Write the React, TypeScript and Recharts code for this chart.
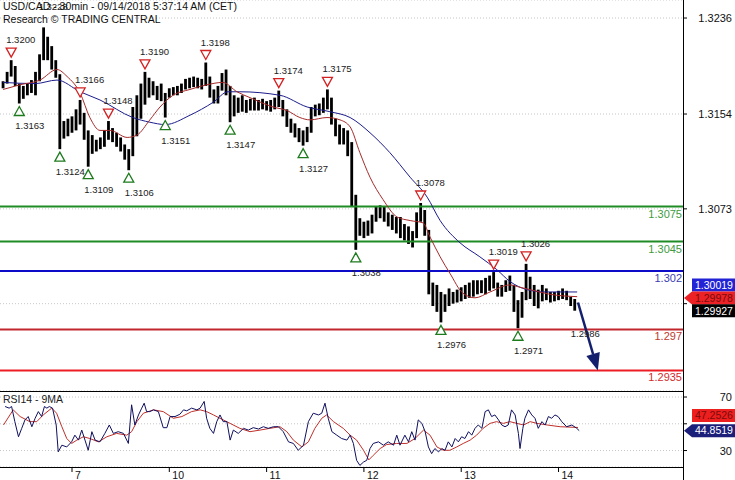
import React from 'react';
import { ComposedChart, Bar, Line, Scatter, XAxis, YAxis, CartesianGrid, ReferenceLine } from 'recharts';

const FONT = "'Liberation Sans', Arial, sans-serif";

// hourly bars, hour 0 = Sep 7 00:00 CET
const firstBarHour = -17;
const barHigh = [
  1.3182, 1.3190, 1.3200, 1.3195, 1.3180, 1.3178, 1.3180, 1.3183, 1.3190, 1.3205,
  1.3228, 1.3220, 1.3212, 1.3200, 1.3188, 1.3148, 1.3150, 1.3152, 1.3158, 1.3166,
  1.3155, 1.3140, 1.3136, 1.3132, 1.3134, 1.3140, 1.3148, 1.3142, 1.3138, 1.3134,
  1.3128, 1.3124, 1.3160, 1.3170, 1.3180, 1.3190, 1.3185, 1.3182, 1.3178, 1.3180,
  1.3172, 1.3176, 1.3177, 1.3178, 1.3180, 1.3184, 1.3185, 1.3186, 1.3185, 1.3184,
  1.3198, 1.3186, 1.3175, 1.3178, 1.3189, 1.3192, 1.3178, 1.3170, 1.3168, 1.3170,
  1.3166, 1.3167, 1.3168, 1.3166, 1.3167, 1.3165, 1.3166, 1.3168, 1.3174, 1.3166,
  1.3158, 1.3150, 1.3146, 1.3142, 1.3140, 1.3143, 1.3160, 1.3162, 1.3163, 1.3168,
  1.3175, 1.3168, 1.3150, 1.3145, 1.3142, 1.3140, 1.3130, 1.3085, 1.3065, 1.3062,
  1.3063, 1.3068, 1.3075, 1.3076, 1.3075, 1.3070, 1.3068, 1.3066, 1.3066, 1.3060,
  1.3058, 1.3054, 1.3070, 1.3078, 1.3072, 1.3055, 1.3010, 1.3008, 1.3002, 1.3000,
  1.3005, 1.3002, 1.3004, 1.3006, 1.3008, 1.3010, 1.3012, 1.3012, 1.3012, 1.3014,
  1.3016, 1.3019, 1.3010, 1.3008, 1.3012, 1.3016, 1.3008, 1.2995, 1.3002, 1.3026,
  1.3015, 1.3008, 1.3004, 1.3008, 1.3005, 1.3002, 1.3002, 1.3003, 1.3005, 1.3003,
  1.2998, 1.2996,
];
const barLow = [
  1.3176, 1.3180, 1.3186, 1.3178, 1.3163, 1.3167, 1.3170, 1.3172, 1.3170, 1.3182,
  1.3200, 1.3200, 1.3192, 1.3185, 1.3124, 1.3133, 1.3135, 1.3138, 1.3140, 1.3145,
  1.3132, 1.3109, 1.3120, 1.3122, 1.3124, 1.3126, 1.3132, 1.3130, 1.3126, 1.3122,
  1.3115, 1.3106, 1.3118, 1.3135, 1.3150, 1.3162, 1.3168, 1.3170, 1.3166, 1.3165,
  1.3151, 1.3168, 1.3170, 1.3170, 1.3172, 1.3175, 1.3176, 1.3177, 1.3176, 1.3175,
  1.3178, 1.3168, 1.3163, 1.3163, 1.3174, 1.3170, 1.3147, 1.3152, 1.3155, 1.3156,
  1.3155, 1.3157, 1.3157, 1.3157, 1.3158, 1.3157, 1.3156, 1.3158, 1.3160, 1.3152,
  1.3143, 1.3138, 1.3134, 1.3130, 1.3127, 1.3130, 1.3138, 1.3152, 1.3153, 1.3155,
  1.3158, 1.3145, 1.3135, 1.3128, 1.3128, 1.3118, 1.3075, 1.3038, 1.3050, 1.3048,
  1.3050, 1.3052, 1.3062, 1.3065, 1.3062, 1.3058, 1.3055, 1.3052, 1.3048, 1.3046,
  1.3043, 1.3040, 1.3048, 1.3062, 1.3050, 1.3000, 1.2990, 1.2985, 1.2976, 1.2985,
  1.2990, 1.2992, 1.2993, 1.2994, 1.2996, 1.2997, 1.2998, 1.3000, 1.3001, 1.3000,
  1.3003, 1.3005, 1.2998, 1.2998, 1.3002, 1.3003, 1.2985, 1.2971, 1.2980, 1.2995,
  1.2996, 1.2990, 1.2988, 1.2994, 1.2995, 1.2993, 1.2994, 1.2995, 1.2996, 1.2995,
  1.2990, 1.2986,
];

// [hour, price]
const slowMa = [
  [-17, 1.3181], [-9.1, 1.318], [-3.7, 1.3183], [2, 1.3173], [6.9, 1.3166], [15, 1.3151],
  [19.2, 1.3147], [23, 1.3145], [29.1, 1.3153], [34.8, 1.3164], [38.5, 1.3173], [41.4, 1.3173],
  [51.3, 1.317], [58, 1.316], [63.6, 1.3156], [68.6, 1.3151], [73.5, 1.3138], [78.4, 1.3121],
  [83.4, 1.31], [87.6, 1.3083], [90.8, 1.3063], [95.7, 1.3044], [100.6, 1.3032], [104.8, 1.3021],
  [108, 1.3011], [112.2, 1.3004], [116.7, 1.3002], [124.6, 1.3002],
];
const fastMa = [
  [-17, 1.3175], [-12.8, 1.3179], [-7.9, 1.3183], [-3.7, 1.3192], [-1.2, 1.3186], [2, 1.3172],
  [4.4, 1.3151], [6.9, 1.314], [9.4, 1.314], [13.6, 1.3134], [16, 1.3136], [19.2, 1.3149],
  [21.7, 1.316], [24.9, 1.317], [29.1, 1.3175], [33.3, 1.3179], [37.2, 1.3181], [40.7, 1.3173],
  [43.9, 1.3168], [49.6, 1.316], [53, 1.3157], [56.2, 1.3151], [58.7, 1.3149], [62.9, 1.3151],
  [66.1, 1.3149], [68.6, 1.3143], [71, 1.3121], [73.5, 1.31], [76.7, 1.3081], [80.2, 1.3066],
  [83.4, 1.3063], [86.6, 1.3061], [88.3, 1.3049], [90.8, 1.3032], [93.2, 1.3018], [96.4, 1.3001],
  [99.4, 1.2997], [103.1, 1.3002], [108, 1.3008], [110.5, 1.3006], [113, 1.3004], [117.9, 1.3],
  [124.6, 1.2998],
];

// [hour, value]
const rsi14 = [
  [-16.5, 62.9], [-15.5, 61.7], [-14.9, 62.9], [-14.1, 51.6], [-13.2, 40.3], [-12.4, 46.6], [-11.6, 52.9],
  [-10.8, 55.4], [-9.9, 47.8], [-9.1, 54.1], [-8.3, 59.1], [-7.5, 55.4], [-6.8, 62.9], [-6.2, 61.7],
  [-5.6, 62.9], [-4.8, 61.7], [-3.9, 49.1], [-3.4, 29], [-2.5, 34], [-1.3, 32.7], [-0.1, 36.5],
  [0.7, 41.5], [1.6, 37.8], [2.4, 45.3], [3.2, 37.8], [4, 30.2], [4.9, 44.1], [5.7, 37.8], [6.9, 36.5],
  [8.1, 42.8], [9.2, 49.1], [10.2, 42.8], [11.4, 44.1], [12.7, 42.8], [13.9, 35.3], [14.7, 64.2],
  [15.5, 49.1], [16.4, 56.6], [17.2, 61.7], [17.8, 65.4], [18.4, 59.1], [19.2, 59.1], [20.1, 60.4],
  [21.3, 59.1], [22.5, 47.1], [23.4, 47.1], [24.2, 55.4], [25.4, 55.4], [26.6, 57.1], [27.5, 60.4],
  [28.3, 59.7], [29.5, 61.7], [30.8, 60.4], [31.6, 61.7], [32.6, 66.7], [33.2, 54.1], [34, 46.6],
  [34.9, 42.8], [35.7, 51.6], [36.5, 56.6], [37.3, 51.6], [38.2, 51.6], [39, 37.8], [39.8, 45.3],
  [41, 42.8], [42.3, 46.6], [43.5, 45.3], [44.7, 47.1], [46, 46.1], [47.2, 47.8], [48.4, 46.6],
  [49.7, 47.8], [50.9, 47.8], [52.1, 44.1], [53.4, 36.5], [54.6, 35.3], [55.8, 30.2], [57.1, 34],
  [58.3, 51.6], [59.5, 57.9], [60.8, 56.6], [61.6, 57.9], [62.4, 65.4], [63.2, 54.1], [64.1, 44.1],
  [65.3, 41.5], [66.5, 39], [67.8, 37.8], [68.6, 41.5], [69.4, 35.3], [70.2, 22.7], [71, 18.9],
  [71.9, 21.4], [72.7, 22.7], [73.5, 31.5], [74.3, 35.3], [75.6, 36.5], [76.8, 34], [78, 36.5],
  [79.3, 34], [80.1, 41.5], [80.9, 34], [82.1, 41.5], [83, 36.5], [83.8, 44.1], [84.6, 37.8],
  [85.4, 52.9], [86.3, 50.3], [87.1, 44.1], [87.9, 32.7], [88.7, 27.7], [89.5, 31.5], [90.4, 29],
  [91.2, 31.5], [92, 30.2], [92.8, 36.5], [93.7, 32.7], [94.5, 39], [95.3, 36.5], [96.1, 40.3],
  [96.9, 39], [97.8, 44.1], [98.6, 41.5], [99.4, 46.6], [100.2, 49.1], [101.1, 46.6], [101.9, 59.1],
  [102.7, 60.4], [103.5, 55.4], [104.3, 56.6], [105.2, 52.9], [106, 49.1], [106.8, 47.8], [107.6, 49.1],
  [108.4, 60.4], [109.3, 56.6], [110.1, 42.8], [110.5, 31.5], [111.2, 46.6], [111.7, 54.1], [112.6, 60.4],
  [113.4, 56.6], [114.2, 54.1], [115, 46.6], [115.9, 51.6], [116.7, 49.1], [117.5, 55.4], [118.3, 54.1],
  [119.1, 56.6], [119.9, 55.4], [120.8, 51.6], [122, 47.8], [123.3, 49.1], [124.5, 46.6], [125.1, 44.85],
];
const rsiMa9 = [
  [-16.9, 49.1], [-14.5, 60.4], [-12.8, 55.4], [-10.4, 51.6], [-8.7, 51.6], [-7.1, 56.6], [-5, 61.7],
  [-3.8, 57.9], [-2.5, 47.8], [-1.3, 39], [-0.1, 35.3], [1.2, 37.8], [2.8, 40.3], [4.4, 39], [6.5, 36.5],
  [8.6, 40.3], [11, 42.8], [13.5, 41.5], [14.7, 44.1], [16, 51.6], [17.6, 57.9], [20.1, 60.4],
  [22.5, 59.1], [25, 54.1], [27.1, 55.4], [29.5, 59.1], [31.6, 60.4], [33.2, 59.1], [34.9, 56.6],
  [36.5, 54.1], [39, 50.3], [41.4, 46.6], [43.9, 44.1], [46.4, 45.3], [48.8, 46.6], [51.3, 47.8],
  [53, 44.1], [54.6, 37.8], [56.7, 32.7], [58.3, 36.5], [59.9, 46.6], [61.6, 54.1], [62.8, 56.6],
  [64.5, 51.6], [66.9, 46.6], [68.6, 41.5], [70.2, 37.8], [71.9, 30.2], [73.2, 23], [74.3, 26.4],
  [76, 31.5], [77.6, 34.5], [80.1, 35.3], [82.6, 35.3], [84.6, 39], [86.7, 45.3], [88.3, 41.5],
  [90, 32.7], [91.6, 30.2], [93.2, 30.2], [94.9, 32.7], [96.5, 35.3], [98.2, 37.8], [99.8, 41.5],
  [101.4, 46.6], [103.1, 50.3], [104.7, 51.6], [106.4, 50.3], [108, 51.6], [109.7, 50.3], [111.4, 49.1],
  [113, 51.6], [114.7, 50.3], [117.2, 49.1], [120.4, 47.8], [124.8, 47.25],
];

// [hour, price, marker shown]
const swingHighs = [
  [-15, 1.32, true], [-7, 1.3228, false], [2, 1.3166, true], [9, 1.3148, true], [18, 1.319, true],
  [33, 1.3198, true], [51, 1.3174, true], [63, 1.3175, true], [86, 1.3078, true], [104, 1.3019, true],
  [112, 1.3026, true],
];
const swingLows = [
  [-13, 1.3163, true], [-3, 1.3124, true], [4, 1.3109, true], [14, 1.3106, true], [23, 1.3151, true],
  [39, 1.3147, true], [57, 1.3127, true], [70, 1.3038, true], [91, 1.2976, true], [110, 1.2971, true],
  [124, 1.2986, false],
];

const dayTicks = [0, 24, 48, 72, 96, 120];
const dayLabels = ['7', '10', '11', '12', '13', '14'];
const priceTicks = [1.2992, 1.3073, 1.3154, 1.3236];
const hiddenPriceTick = 1.2992;
const rsiTicks = [30, 50, 70];
const hiddenRsiTick = 50;
const levelPrices = [1.3075, 1.3045, 1.302, 1.297, 1.2935];
const levelLabels = ['1.3075', '1.3045', '1.302', '1.297', '1.2935'];
const priceTagValues = [1.30019, 1.29978, 1.29927];
const rsiTagValues = [47.2526, 44.8519];
const targetArrow = [[124.8, 1.2993], [129.7, 1.2935]];

const xDomain = [-17.76, 150.7];
const priceDomain = [1.29174, 1.32514];
const rsiDomain = [17.7, 74.5];

const levelColors = ['#1f8b24', '#1f8b24', '#0b0bc8', '#c1262c', '#ec1d24'];
const levelTextColors = ['#3f9b3f', '#3f9b3f', '#3c3cb4', '#c0392b', '#d42a2a'];
const priceTagStyles = [
  { bg: '#2323d6', fg: '#fff', shift: -7, arrow: false },
  { bg: '#ec2226', fg: '#7a0c0c', shift: 1, arrow: true },
  { bg: '#000', fg: '#fff', shift: 8, arrow: false },
];
const rsiTagStyles = [
  { bg: '#ee1f1f', fg: '#7a0c0c', shift: -12, arrow: false },
  { bg: '#1b1f7a', fg: '#fff', shift: 0, arrow: true },
];

const bars = barHigh.map((hi, i) => ({ h: firstBarHour + i, range: [barLow[i], hi] }));
const toPts = (arr: number[][]) => arr.map(([h, p]) => ({ h, p }));
const highPts = swingHighs.map(([h, p, mark]) => ({ h, p, mark }));
const lowPts = swingLows.map(([h, p, mark]) => ({ h, p, mark }));

function PriceTick(props: any) {
  const { x, y, payload } = props;
  const v = payload.value;
  if (v === hiddenPriceTick) return null;
  return (
    <text x={x + 43} y={y} dy="0.36em" textAnchor="end" fontSize={11} fontFamily={FONT} fill="#111">
      {v.toFixed(4)}
    </text>
  );
}

function RsiTick(props: any) {
  const { x, y, payload } = props;
  if (payload.value === hiddenRsiTick) return null;
  return (
    <text x={x + 43} y={y} dy="0.36em" textAnchor="end" fontSize={11} fontFamily={FONT} fill="#111">
      {payload.value}
    </text>
  );
}

function DayTick(props: any) {
  const { x, y, payload } = props;
  const label = dayLabels[dayTicks.indexOf(payload.value)];
  return (
    <g>
      <line x1={x} y1={y} x2={x} y2={y + 5} stroke="#000" />
      <text x={x + 3} y={y + 12} fontSize={10.5} fontFamily={FONT} fill="#111">{label}</text>
    </g>
  );
}

// high-low stick
function Stick(props: any) {
  const { x, y, width, height } = props;
  if (![x, y, width, height].every((v) => typeof v === 'number' && !isNaN(v))) return <g />;
  const cx = x + width / 2;
  return <rect x={cx - 1.4} y={y} width={2.8} height={Math.max(height, 1)} fill="#000" />;
}

function HighMark(props: any) {
  const { cx, cy, payload } = props;
  return (
    <g>
      {payload.mark && (
        <polygon points={`${cx - 5},${cy - 12} ${cx + 5},${cy - 12} ${cx},${cy - 3}`} fill="#fff" stroke="#d42020" strokeWidth={1.3} />
      )}
      <text x={cx - 5} y={cy - 17} fontSize={9.5} fontFamily={FONT} fill="#222">{payload.p.toFixed(4)}</text>
    </g>
  );
}

function LowMark(props: any) {
  const { cx, cy, payload } = props;
  return (
    <g>
      {payload.mark && (
        <polygon points={`${cx - 5},${cy + 12} ${cx + 5},${cy + 12} ${cx},${cy + 3}`} fill="#fff" stroke="#1d7a1d" strokeWidth={1.3} />
      )}
      <text x={cx - 4} y={cy + 26} fontSize={9.5} fontFamily={FONT} fill="#222">{payload.p.toFixed(4)}</text>
    </g>
  );
}

function LevelLabel(props: any) {
  const { viewBox, text, color } = props;
  if (!viewBox) return null;
  return (
    <text x={viewBox.x + viewBox.width - 1} y={viewBox.y + 11} textAnchor="end" fontSize={11} fontFamily={FONT} fill={color}>
      {text}
    </text>
  );
}

function TagLabel(props: any) {
  const { viewBox, text, bg, fg, shift, arrow } = props;
  if (!viewBox) return null;
  const x0 = viewBox.x + viewBox.width;
  const cy = viewBox.y + shift;
  const left = x0 + 9;
  const right = x0 + 52;
  const d = arrow
    ? `M${x0 + 1},${cy} L${left},${cy - 6.5} L${right},${cy - 6.5} L${right},${cy + 6.5} L${left},${cy + 6.5} Z`
    : `M${left},${cy - 6.5} H${right} V${cy + 6.5} H${left} Z`;
  return (
    <g>
      <path d={d} fill={bg} />
      <text x={left + 3} y={cy} dy="0.36em" fontSize={10.5} fontFamily={FONT} fill={fg}>{text}</text>
    </g>
  );
}

function ArrowShape(props: any) {
  const { x1, y1, x2, y2 } = props;
  if ([x1, y1, x2, y2].some((v) => typeof v !== 'number' || isNaN(v))) return <g />;
  const dx = x2 - x1;
  const dy = y2 - y1;
  const len = Math.hypot(dx, dy);
  const ux = dx / len;
  const uy = dy / len;
  const bx = x2 - ux * 17;
  const by = y2 - uy * 17;
  return (
    <g>
      <line x1={x1} y1={y1} x2={bx} y2={by} stroke="#14206e" strokeWidth={2.5} />
      <polygon points={`${x2},${y2} ${bx - uy * 7},${by + ux * 7} ${bx + uy * 7},${by - ux * 7}`} fill="#14206e" />
    </g>
  );
}

export default function App() {
  return (
    <div style={{ position: 'relative', width: 735, height: 480, background: '#fff', fontFamily: FONT, overflow: 'hidden' }}>
      <style>{'body{margin:0}'}</style>
      <ComposedChart width={735} height={391} data={bars} margin={{ top: 0, right: 0, bottom: 0, left: 0 }}>
        <CartesianGrid vertical={false} stroke="#c8c8c8" strokeDasharray="1 2" />
        <XAxis dataKey="h" type="number" domain={xDomain} allowDataOverflow hide />
        <YAxis
          orientation="right"
          type="number"
          domain={priceDomain}
          allowDataOverflow
          ticks={priceTicks}
          interval={0}
          width={52}
          axisLine={false}
          tickLine={{ stroke: '#000' }}
          tickSize={4}
          tickMargin={2}
          tick={<PriceTick />}
        />
        {levelPrices.map((v, i) => (
          <ReferenceLine
            key={'lvl' + i}
            y={v}
            stroke={levelColors[i]}
            strokeWidth={2}
            label={<LevelLabel text={levelLabels[i]} color={levelTextColors[i]} />}
          />
        ))}
        <Bar dataKey="range" barSize={3} fill="#000" shape={Stick} isAnimationActive={false} />
        <Line data={toPts(slowMa)} dataKey="p" type="monotone" stroke="#1c1c8c" strokeWidth={1} dot={false} activeDot={false} isAnimationActive={false} />
        <Line data={toPts(fastMa)} dataKey="p" type="monotone" stroke="#a52a2a" strokeWidth={1} dot={false} activeDot={false} isAnimationActive={false} />
        <Scatter data={highPts} dataKey="p" shape={HighMark} isAnimationActive={false} />
        <Scatter data={lowPts} dataKey="p" shape={LowMark} isAnimationActive={false} />
        <ReferenceLine
          segment={[{ x: targetArrow[0][0], y: targetArrow[0][1] }, { x: targetArrow[1][0], y: targetArrow[1][1] }]}
          shape={(p: any) => <ArrowShape {...p} />}
          ifOverflow="visible"
        />
        {priceTagValues.map((v, i) => (
          <ReferenceLine
            key={'tag' + i}
            y={v}
            stroke="none"
            ifOverflow="visible"
            label={<TagLabel text={v.toFixed(5)} {...priceTagStyles[i]} />}
          />
        ))}
      </ComposedChart>
      <ComposedChart width={735} height={89} margin={{ top: 0, right: 0, bottom: 0, left: 0 }}>
        <CartesianGrid vertical={false} stroke="#c8c8c8" strokeDasharray="1 2" />
        <XAxis
          dataKey="h"
          type="number"
          domain={xDomain}
          allowDataOverflow
          ticks={dayTicks}
          interval={0}
          height={13}
          axisLine={false}
          tickLine={false}
          tickSize={0}
          tickMargin={0}
          tick={<DayTick />}
        />
        <YAxis
          orientation="right"
          type="number"
          domain={rsiDomain}
          allowDataOverflow
          ticks={rsiTicks}
          interval={0}
          width={52}
          axisLine={false}
          tickLine={{ stroke: '#000' }}
          tickSize={4}
          tickMargin={2}
          tick={<RsiTick />}
        />
        <Line data={toPts(rsiMa9)} dataKey="p" stroke="#c0302a" strokeWidth={1} dot={false} activeDot={false} isAnimationActive={false} />
        <Line data={toPts(rsi14)} dataKey="p" stroke="#101060" strokeWidth={1} dot={false} activeDot={false} isAnimationActive={false} />
        {rsiTagValues.map((v, i) => (
          <ReferenceLine
            key={'rtag' + i}
            y={v}
            stroke="none"
            ifOverflow="visible"
            label={<TagLabel text={v.toFixed(4)} {...rsiTagStyles[i]} />}
          />
        ))}
      </ComposedChart>
      <div style={{ position: 'absolute', left: 683, top: 0, width: 1, height: 480, background: '#000' }} />
      <div style={{ position: 'absolute', left: 0, top: 391, width: 683, height: 1, background: '#000' }} />
      <div style={{ position: 'absolute', left: 0, top: 467, width: 683, height: 1, background: '#000' }} />
      <div style={{ position: 'absolute', left: 3, top: 0, fontSize: 10.5, lineHeight: '12.5px', color: '#111', whiteSpace: 'nowrap', pointerEvents: 'none' }}>
        <div>USD/CAD - 30min - 09/14/2018 5:37:14 AM (CET)</div>
        <div>Research © TRADING CENTRAL</div>
      </div>
      <div style={{ position: 'absolute', left: 3, top: 393, fontSize: 10.5, lineHeight: '12px', color: '#222', pointerEvents: 'none' }}>
        RSI14 - 9MA
      </div>
    </div>
  );
}
